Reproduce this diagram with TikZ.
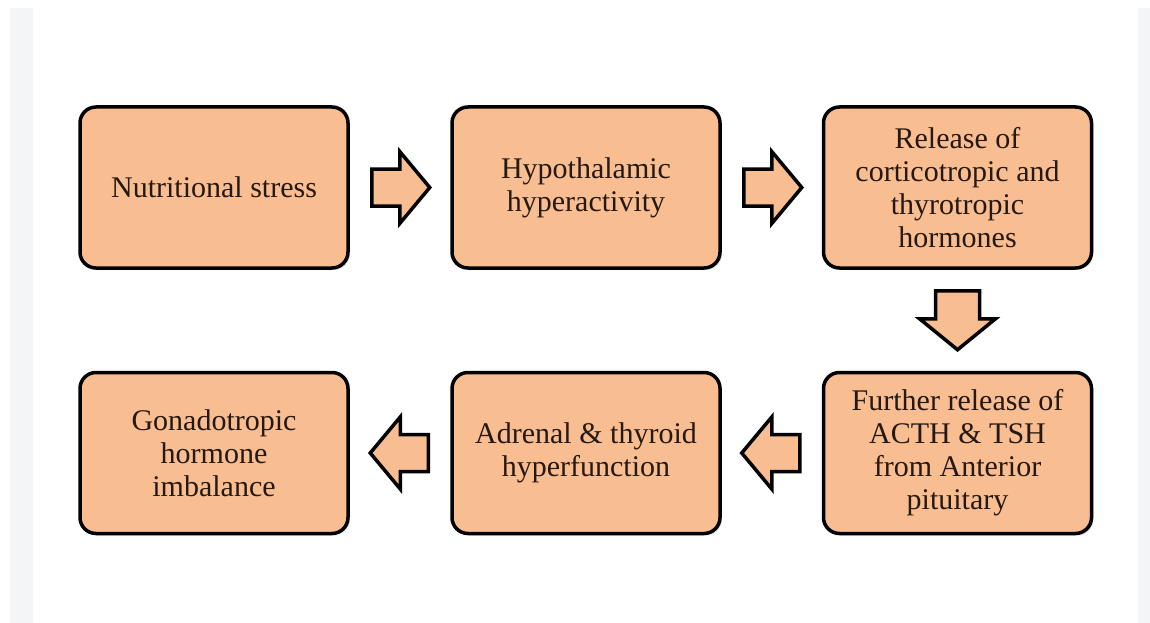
\documentclass[tikz,border=0pt]{standalone}
\usepackage{fontspec}
\setmainfont{Liberation Serif}
\newfontfamily\tnr{Liberation Serif}
\usetikzlibrary{calc,shadows}
\definecolor{peach}{RGB}{248,190,145}
\definecolor{margray}{RGB}{244,245,247}
\definecolor{inkdark}{RGB}{38,24,18}
\tikzset{
  x=1pt,y=-1pt,
  stepbox/.style={draw=black,line width=3.5pt,fill=peach,rounded corners=16pt,
    minimum width=268pt,minimum height=161pt,align=center,text=inkdark,
    font=\tnr\fontsize{30}{33}\selectfont,inner sep=0pt,
    drop shadow={opacity=0.2,shadow xshift=2pt,shadow yshift=-2pt}},
  bigarrow/.style={draw=black,line width=3.5pt,fill=peach,line join=miter}
}
\begin{document}
\begin{tikzpicture}
\useasboundingbox (0,0) rectangle (1150,623);
\fill[white] (0,0) rectangle (1150,623);
\fill[margray] (10,8) rectangle (33,623);
\fill[margray] (1138,8) rectangle (1150,623);
% boxes
\node[stepbox] (b1) at (214,187.5) {Nutritional stress};
\node[stepbox] (b2) at (586,187.5) {Hypothalamic\\hyperactivity};
\node[stepbox] (b3) at (957.5,187.5) {Release of\\corticotropic and\\thyrotropic\\hormones};
\node[stepbox] (b4) at (957.5,453) {Further release of\\ACTH \& TSH\\from Anterior\\pituitary};
\node[stepbox] (b5) at (586,453) {Adrenal \& thyroid\\hyperfunction};
\node[stepbox] (b6) at (214,453) {Gonadotropic\\hormone\\imbalance};
% right arrows
\foreach \a/\b in {b1/b2,b2/b3}{
  \coordinate (t) at ($(\a.east)+(22,0)$);
  \draw[bigarrow] ($(t)+(0,-18.5)$) -- ($(t)+(28,-18.5)$) -- ($(t)+(28,-36)$) -- ($(t)+(58,0)$)
    -- ($(t)+(28,36)$) -- ($(t)+(28,18.5)$) -- ($(t)+(0,18.5)$) -- cycle;
}
% down arrow
\coordinate (d) at ($(b3.south)+(0,21)$);
\draw[bigarrow] ($(d)+(-22,0)$) -- ($(d)+(22,0)$) -- ($(d)+(22,28)$) -- ($(d)+(38,28)$) -- ($(d)+(0,59)$)
  -- ($(d)+(-38,28)$) -- ($(d)+(-22,28)$) -- cycle;
% left arrows
\foreach \a/\b in {b4/b5,b5/b6}{
  \coordinate (t) at ($(\a.west)+(-22,0)$);
  \draw[bigarrow] ($(t)+(0,-18.5)$) -- ($(t)+(-28,-18.5)$) -- ($(t)+(-28,-36)$) -- ($(t)+(-58,0)$)
    -- ($(t)+(-28,36)$) -- ($(t)+(-28,18.5)$) -- ($(t)+(0,18.5)$) -- cycle;
}
\end{tikzpicture}
\end{document}
